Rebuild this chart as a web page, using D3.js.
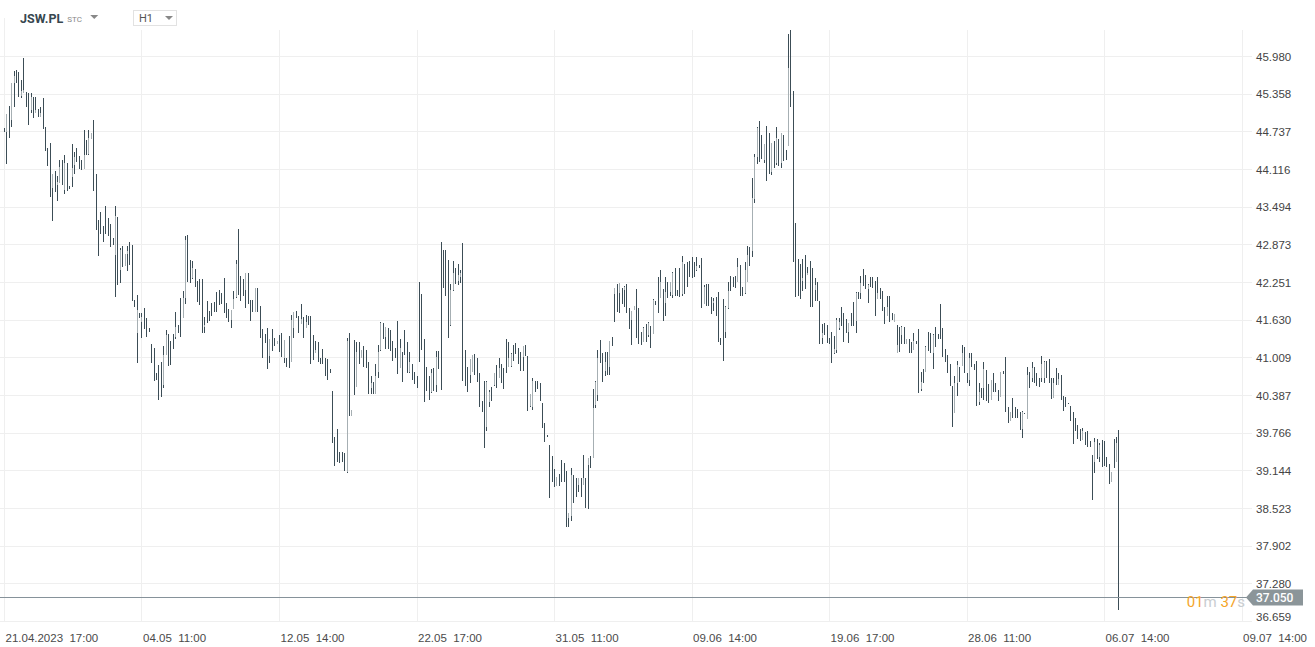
<!DOCTYPE html>
<html>
<head>
<meta charset="utf-8">
<title>JSW.PL H1</title>
<style>
  body { margin: 0; background: #fff; overflow: hidden; }
  svg { display: block; font-family: Roboto, "Noto Sans", sans-serif; }
  .tick text { white-space: pre; }
</style>
</head>
<body>
<script src="https://d3js.org/d3.v7.min.js"></script>
<script>
// H1 candles, [open, high, low, close]
const ohlc = [
  [44.78,44.79,44.73,44.73],[44.73,45.02,44.20,45.02],[45.00,45.15,44.63,44.70],[44.92,45.53,44.81,45.53],
  [45.53,45.73,45.14,45.65],[45.65,45.75,45.53,45.55],[45.55,45.72,45.30,45.35],[45.32,45.58,45.29,45.40],
  [45.37,45.95,45.37,45.42],[45.38,45.39,45.14,45.15],[45.15,45.37,44.84,44.90],[45.09,45.37,45.04,45.30],
  [45.28,45.30,44.96,45.00],[45.04,45.30,45.04,45.09],[45.09,45.11,44.97,44.98],[44.97,45.14,44.97,45.04],
  [45.05,45.29,44.78,44.80],[44.80,44.81,44.41,44.45],[44.45,44.46,44.16,44.20],[44.20,44.54,43.65,43.70],
  [43.80,44.03,43.26,44.03],[44.03,44.08,43.74,43.76],[43.85,44.00,43.59,43.90],[43.88,44.26,43.88,44.15],
  [44.15,44.26,43.85,43.90],[43.77,44.35,43.70,44.21],[44.20,44.21,43.75,43.80],[43.83,43.83,43.79,43.79],
  [43.98,44.53,43.82,44.13],[44.18,44.40,44.03,44.31],[44.31,44.46,44.23,44.24],[44.25,44.33,44.12,44.13],
  [44.20,44.26,44.10,44.10],[44.12,44.76,44.12,44.35],[44.55,44.59,44.35,44.36],[44.36,44.76,44.35,44.63],
  [44.61,44.71,44.61,44.71],[44.70,44.92,43.75,43.80],[43.80,44.03,43.11,43.20],[43.20,43.27,42.68,42.75],
  [43.35,43.41,43.04,43.10],[43.10,43.17,42.91,42.95],[43.40,43.51,43.04,43.10],[43.25,43.31,43.01,43.05],
  [43.15,43.21,42.83,42.90],[42.95,42.98,42.86,42.87],[42.70,43.51,42.00,43.34],[43.30,43.32,42.20,42.30],
  [42.45,42.81,42.23,42.78],[42.78,42.85,42.50,42.52],[42.52,42.71,42.52,42.71],[42.71,42.85,42.43,42.76],
  [42.76,42.91,42.53,42.55],[42.55,42.86,41.94,42.00],[41.95,41.95,41.84,41.85],[41.41,42.04,40.92,41.79],
  [41.73,41.74,41.66,41.66],[41.59,41.74,41.33,41.67],[41.70,41.82,41.48,41.50],[41.55,41.66,41.34,41.36],
  [41.49,41.49,41.43,41.43],[41.20,41.23,40.92,40.95],[41.00,41.16,40.62,40.65],[40.74,40.75,40.63,40.64],
  [40.70,40.88,40.31,40.35],[40.60,40.93,40.35,40.40],[40.55,41.20,40.50,41.05],[41.05,41.46,41.05,41.38],
  [41.35,41.39,40.87,40.90],[41.10,41.28,40.88,40.90],[41.30,41.39,41.15,41.15],[41.34,41.76,41.31,41.51],
  [41.51,41.54,41.41,41.42],[41.45,41.99,41.34,41.36],[41.66,42.10,41.66,41.99],[41.99,43.01,41.89,42.94],
  [42.94,43.03,42.25,42.30],[42.50,42.61,42.23,42.25],[42.32,42.60,42.30,42.48],[42.45,42.47,42.17,42.20],
  [42.20,42.27,41.92,41.95],[42.10,42.30,41.87,41.90],[41.95,42.30,41.41,41.45],[41.51,41.67,41.41,41.54],
  [41.85,41.94,41.58,41.60],[41.75,41.77,41.61,41.62],[41.85,41.91,41.69,41.70],[41.90,41.92,41.76,41.77],
  [42.00,42.09,41.76,41.80],[42.05,42.12,41.87,41.90],[42.05,42.07,41.89,41.90],[42.20,42.32,41.74,41.80],
  [41.85,41.91,41.66,41.67],[41.75,41.81,41.59,41.60],[41.62,41.79,41.49,41.79],[41.81,42.10,41.81,41.97],
  [42.00,42.61,41.99,42.55],[42.55,43.13,42.04,42.10],[42.30,42.35,41.94,42.00],[42.25,42.30,42.02,42.05],
  [42.12,42.40,41.82,42.40],[42.35,42.40,41.89,41.92],[41.90,41.95,41.61,41.62],[41.94,41.95,41.76,41.77],
  [41.76,42.15,41.76,42.15],[42.15,42.15,41.76,41.76],[41.76,41.86,41.33,41.35],[41.35,41.48,41.00,41.00],
  [41.38,41.39,41.25,41.25],[41.25,41.49,40.82,40.85],[41.03,41.31,40.92,41.31],[41.30,41.48,41.11,41.12],
  [41.30,41.33,41.20,41.20],[41.23,41.28,41.23,41.28],[41.27,41.38,41.10,41.10],[41.10,41.41,41.01,41.02],
  [41.00,41.29,40.92,41.29],[40.99,41.00,40.85,40.86],[40.90,41.36,40.83,40.85],[40.93,41.71,40.93,41.62],
  [41.49,41.76,41.33,41.76],[41.76,41.77,41.66,41.66],[41.66,41.69,41.41,41.42],[41.56,41.89,41.56,41.64],
  [41.64,41.67,41.33,41.35],[41.49,41.71,41.49,41.59],[41.60,41.69,41.54,41.55],[41.55,41.69,40.90,40.95],
  [41.20,41.38,40.96,41.00],[41.08,41.28,41.08,41.13],[41.13,41.26,40.93,40.95],[40.99,41.00,40.90,40.90],
  [41.00,41.15,40.90,40.90],[40.90,41.00,40.70,40.72],[40.80,40.98,40.63,40.65],[40.81,40.82,40.75,40.76],
  [40.45,40.45,39.60,39.65],[39.65,39.69,39.22,39.25],[39.50,39.83,39.28,39.30],[39.40,39.45,39.27,39.27],
  [39.44,39.45,39.28,39.29],[39.40,39.43,39.13,39.15],[39.12,41.33,39.10,41.28],[41.28,41.41,40.04,40.10],
  [40.04,40.14,40.04,40.14],[41.00,41.29,40.39,40.40],[40.52,41.26,40.52,41.10],[41.10,41.26,40.90,40.92],
  [41.00,41.13,41.00,41.13],[41.13,41.20,40.85,40.86],[41.00,41.13,40.83,40.85],[40.85,40.93,40.40,40.42],
  [40.50,40.70,40.40,40.59],[40.58,40.60,40.40,40.41],[40.40,40.90,40.40,40.70],[40.77,41.21,40.67,41.10],
  [41.13,41.59,41.11,41.58],[41.57,41.58,41.31,41.33],[41.34,41.51,41.15,41.51],[41.45,41.49,41.15,41.17],
  [41.40,41.46,41.11,41.15],[41.15,41.28,40.95,40.97],[41.10,41.16,41.00,41.00],[41.00,41.61,40.73,40.76],
  [40.83,41.31,40.83,41.16],[41.00,41.10,40.60,40.65],[41.35,41.46,41.05,41.05],[41.05,41.26,40.75,40.78],
  [40.77,41.10,40.75,40.93],[40.90,40.90,40.63,40.65],[40.70,40.77,40.57,40.60],[40.60,40.70,40.50,40.52],
  [42.00,42.25,40.93,41.00],[41.90,42.05,41.13,41.20],[41.20,41.31,40.27,40.30],[40.80,40.85,40.45,40.47],
  [40.60,40.70,40.31,40.32],[40.44,40.82,40.42,40.75],[40.75,40.83,40.45,40.47],[40.55,41.11,40.44,41.01],
  [41.01,41.11,40.82,40.83],[42.85,42.91,40.47,40.50],[42.75,42.78,42.15,42.20],[42.70,42.78,42.02,42.05],
  [42.40,42.61,41.33,41.40],[41.54,42.22,41.53,42.12],[42.12,42.60,42.10,42.40],[42.40,42.48,42.22,42.23],
  [42.27,42.55,42.20,42.37],[42.33,42.45,42.23,42.40],[42.40,42.89,40.62,40.70],[40.90,41.13,40.54,40.60],
  [40.60,40.85,40.44,40.45],[40.72,40.98,40.59,40.98],[40.77,41.05,40.77,41.05],[41.04,41.06,40.72,40.73],
  [40.75,41.00,40.60,40.62],[40.62,40.75,40.19,40.20],[40.25,40.29,40.11,40.12],[40.12,40.62,39.51,39.60],
  [39.86,40.62,39.79,40.60],[40.27,40.47,40.19,40.44],[40.45,40.52,40.29,40.30],[40.55,40.75,40.54,40.75],
  [40.75,40.88,40.50,40.52],[40.67,41.00,40.67,40.83],[40.83,40.90,40.59,40.60],[40.70,40.83,40.49,40.50],
  [41.00,41.31,40.75,40.78],[40.85,41.26,40.85,41.00],[40.87,41.08,40.85,41.06],[41.06,41.21,40.95,40.96],
  [41.20,41.25,41.06,41.07],[41.07,41.16,40.90,40.92],[40.95,41.10,40.78,40.80],[41.01,41.20,40.78,41.20],
  [41.19,41.21,41.03,41.04],[41.00,41.03,40.12,40.15],[40.20,40.40,40.19,40.40],[40.19,40.67,40.14,40.62],
  [40.60,40.62,40.44,40.45],[40.55,40.62,40.49,40.49],[40.50,40.59,40.29,40.30],[40.25,40.26,39.84,39.86],
  [39.85,39.93,39.61,39.63],[39.72,39.73,39.69,39.70],[39.50,39.56,38.69,38.75],[39.10,39.38,38.95,38.97],
  [39.05,39.17,38.87,38.90],[38.89,39.03,38.89,39.03],[39.03,39.08,38.89,38.90],[39.20,39.32,38.95,38.97],
  [39.10,39.27,38.95,38.96],[39.00,39.13,38.21,38.30],[38.36,38.44,38.21,38.44],[38.39,39.18,38.31,39.07],
  [39.05,39.07,38.60,38.65],[38.80,39.02,38.70,38.72],[38.90,39.02,38.79,39.02],[39.00,39.02,38.70,38.72],
  [38.90,39.40,38.90,39.02],[39.00,39.02,38.52,38.55],[39.23,39.35,38.51,39.35],[39.35,39.38,39.18,39.20],
  [39.35,40.49,39.35,40.17],[40.22,40.62,40.17,40.60],[40.39,41.13,40.29,41.00],[41.00,41.29,40.92,40.95],
  [40.95,41.08,40.60,40.65],[40.78,41.10,40.70,40.93],[40.93,41.10,40.72,40.75],[40.85,41.28,40.72,41.28],
  [41.28,41.34,41.20,41.20],[42.05,42.15,41.59,42.15],[42.15,42.22,41.76,41.80],[42.07,42.23,41.74,42.23],
  [42.10,42.15,41.89,41.90],[42.12,42.19,41.84,42.17],[42.15,42.22,41.74,41.76],[41.76,41.82,41.48,41.50],
  [41.62,41.77,41.21,41.77],[41.79,41.86,41.79,41.86],[41.85,42.14,41.33,41.35],[41.70,41.82,41.23,41.25],
  [41.40,41.43,41.21,41.22],[41.26,41.51,41.26,41.49],[41.49,41.56,41.26,41.28],[41.38,41.59,41.34,41.58],
  [41.50,41.53,41.16,41.18],[41.39,41.97,41.39,41.95],[41.93,41.94,41.87,41.88],[42.00,42.33,41.74,41.78],
  [41.99,42.45,41.99,42.25],[42.10,42.14,41.61,41.65],[41.91,42.33,41.69,42.09],[42.10,42.25,41.99,42.00],
  [42.09,42.25,42.02,42.25],[42.04,42.42,41.99,42.40],[42.40,42.48,42.02,42.05],[42.10,42.12,42.02,42.03],
  [42.10,42.48,42.00,42.03],[42.05,42.68,42.02,42.58],[42.50,42.55,42.05,42.10],[42.50,42.58,42.17,42.20],
  [42.55,42.60,42.33,42.35],[42.60,42.66,42.32,42.35],[42.55,42.58,42.33,42.35],[42.45,42.66,42.43,42.52],
  [42.52,42.53,42.48,42.49],[42.50,42.65,41.82,41.85],[41.89,42.20,41.89,42.17],[42.17,42.22,41.86,41.88],
  [42.00,42.22,41.86,41.88],[41.90,42.00,41.72,41.74],[41.91,41.99,41.77,41.94],[41.95,42.00,41.69,41.70],
  [41.80,42.09,41.26,41.30],[41.32,41.33,41.21,41.22],[41.40,41.97,40.95,41.00],[41.43,41.86,41.33,41.84],
  [41.82,42.25,41.81,42.10],[42.30,42.35,42.10,42.12],[42.30,42.33,42.17,42.18],[42.30,42.35,42.15,42.16],
  [42.25,42.65,42.25,42.50],[42.50,42.53,42.02,42.05],[42.15,42.17,42.02,42.03],[42.07,42.58,42.05,42.45],
  [42.25,42.85,42.25,42.70],[42.70,42.83,42.52,42.52],[42.76,43.97,42.66,43.64],[43.62,44.36,43.55,44.31],
  [44.31,44.81,44.20,44.79],[44.80,44.91,44.23,44.25],[44.60,44.68,44.28,44.30],[44.26,44.53,44.21,44.53],
  [44.50,44.82,43.92,43.95],[44.50,44.71,44.03,44.05],[44.07,44.54,44.02,44.54],[44.54,44.58,44.13,44.15],
  [44.21,44.81,44.18,44.63],[44.60,44.61,44.16,44.18],[44.21,44.71,44.13,44.71],[44.65,44.68,44.25,44.26],
  [44.40,44.43,44.26,44.27],[44.49,46.34,44.49,45.78],[45.80,46.41,45.14,45.20],[45.20,45.40,42.58,42.65],
  [42.70,43.22,42.00,42.05],[42.50,42.63,42.02,42.05],[42.40,42.55,41.97,42.00],[42.27,42.63,42.10,42.32],
  [42.40,42.70,42.14,42.15],[42.37,42.50,42.37,42.40],[42.40,42.60,41.84,41.90],[42.30,42.48,41.84,41.85],
  [42.12,42.32,41.94,42.20],[42.20,42.25,41.94,41.95],[41.93,41.94,41.23,41.25],[41.33,41.56,41.23,41.41],
  [41.50,41.58,41.38,41.39],[41.45,41.54,41.25,41.26],[41.30,41.33,41.23,41.23],[41.30,41.43,40.92,40.95],
  [41.08,41.36,41.06,41.15],[41.13,41.66,41.08,41.62],[41.49,41.66,41.46,41.59],[41.70,41.84,41.53,41.54],
  [41.60,41.74,41.26,41.28],[41.55,41.64,41.41,41.42],[41.43,41.58,41.25,41.58],[41.70,41.74,41.53,41.53],
  [41.80,41.92,41.53,41.55],[41.61,42.09,41.41,42.07],[42.07,42.09,41.97,41.98],[42.07,42.35,41.97,42.23],
  [42.40,42.47,42.19,42.20],[42.30,42.37,42.14,42.15],[42.14,42.22,41.91,42.20],[42.30,42.33,42.17,42.18],
  [42.30,42.33,42.15,42.16],[42.15,42.27,41.69,41.72],[41.97,42.33,41.97,42.07],[42.10,42.15,41.97,41.98],
  [42.00,42.10,41.77,41.80],[41.80,41.84,41.56,41.57],[41.69,42.02,41.69,41.84],[41.85,42.02,41.59,41.60],
  [41.70,41.74,41.62,41.63],[41.59,41.72,41.59,41.72],[41.08,41.54,41.08,41.21],[41.30,41.51,41.10,41.10],
  [41.38,41.53,41.23,41.51],[41.50,41.51,41.23,41.25],[41.23,41.31,41.23,41.31],[41.30,41.31,41.08,41.10],
  [41.20,41.26,41.08,41.09],[41.13,41.41,41.13,41.28],[41.27,41.28,41.23,41.23],[41.25,41.48,40.42,40.45],
  [40.49,40.77,40.45,40.60],[40.75,40.82,40.59,40.60],[40.77,41.20,40.77,41.18],[41.30,41.43,41.11,41.12],
  [41.30,41.41,41.08,41.10],[41.08,41.39,40.82,41.38],[41.40,41.51,41.18,41.20],[41.38,41.39,41.31,41.32],
  [41.60,41.89,41.31,41.33],[41.40,41.49,41.01,41.05],[41.10,41.15,40.93,40.95],[40.95,41.05,40.75,40.78],
  [40.80,40.90,40.54,40.55],[40.50,40.54,39.86,39.90],[40.09,40.70,40.09,40.59],[40.59,40.95,40.37,40.88],
  [40.80,40.85,40.60,40.62],[40.87,41.21,40.87,41.08],[41.10,41.18,40.75,40.78],[40.73,40.75,40.59,40.60],
  [40.63,41.08,40.54,41.00],[41.00,41.08,40.85,40.86],[40.88,40.90,40.80,40.80],[40.80,40.95,40.21,40.25],
  [40.27,40.59,40.22,40.44],[40.45,40.50,40.34,40.34],[40.50,40.93,40.31,40.82],[40.75,40.80,40.29,40.30],
  [40.50,40.57,40.26,40.27],[40.31,40.63,40.31,40.63],[40.63,40.75,40.44,40.45],[40.55,40.59,40.44,40.45],
  [40.45,40.47,40.29,40.30],[40.35,40.77,40.35,40.77],[40.77,40.78,40.73,40.74],[40.75,41.01,40.11,40.15],
  [40.15,40.19,39.93,39.95],[39.96,40.11,39.96,40.11],[40.20,40.34,40.01,40.02],[40.10,40.19,40.01,40.02],
  [40.10,40.16,40.01,40.02],[40.05,40.11,39.81,39.83],[39.83,40.12,39.68,40.11],[40.09,40.09,40.07,40.08],
  [39.99,40.85,39.99,40.72],[40.72,40.77,40.50,40.52],[40.67,40.93,40.60,40.83],[40.83,40.85,40.59,40.60],
  [40.70,40.75,40.54,40.55],[40.65,40.67,40.52,40.53],[40.67,41.03,40.60,40.90],[40.67,40.95,40.59,40.93],
  [40.93,40.95,40.67,40.68],[40.90,40.98,40.59,40.60],[40.60,40.67,40.32,40.34],[40.34,40.67,40.34,40.59],
  [40.75,40.83,40.55,40.57],[40.55,40.75,40.55,40.65],[40.65,40.72,40.31,40.32],[40.33,40.37,40.12,40.14],
  [40.30,40.35,40.19,40.20],[40.25,40.26,40.24,40.24],[40.20,40.21,39.96,39.98],[40.00,40.11,39.58,39.60],
  [39.95,40.01,39.79,39.80],[39.85,39.89,39.66,39.67],[39.80,39.83,39.63,39.64],[39.65,39.84,39.65,39.79],
  [39.75,39.78,39.56,39.58],[39.70,39.79,39.53,39.55],[39.60,39.63,39.53,39.54],[39.30,39.40,38.66,38.70],
  [39.28,39.68,39.10,39.61],[39.60,39.66,39.33,39.35],[39.36,39.60,39.28,39.56],[39.56,39.65,39.20,39.22],
  [39.55,39.63,39.22,39.24],[39.33,39.36,39.20,39.21],[39.20,39.25,38.92,38.95],[38.95,39.12,38.95,39.12],
  [39.60,39.66,39.18,39.20],[39.28,39.69,39.28,39.60],[39.60,39.81,36.84,37.05]
];

const xTickBars = [0, 57, 114, 171, 228, 285, 342, 399, 456, 513];
const xTickLabels = ["21.04.2023  17:00", "04.05  11:00", "12.05  14:00", "22.05  17:00", "31.05  11:00",
                     "09.06  14:00", "19.06  17:00", "28.06  11:00", "06.07  14:00", "09.07  14:00"];
const yTicks = [36.659, 37.280, 37.902, 38.523, 39.144, 39.766, 40.387, 41.009,
                41.630, 42.251, 42.873, 43.494, 44.116, 44.737, 45.358, 45.980];
const lastPrice = 37.050;
const countdown = ["01", "m ", "37", "s"];

const width = 1315, height = 647;
const bottom = 621;

const svg = d3.select("body").append("svg")
    .attr("width", width)
    .attr("height", height);

const x = d3.scaleLinear().domain([0, 513]).range([4, 1241.5]);
const y = d3.scaleLinear().domain([36.659, 45.980]).range([bottom, 56]);
const px = v => Math.round(v) + 0.5;

// grid
svg.append("g").selectAll("line").data(yTicks).join("line")
    .attr("x1", 0).attr("x2", 1252)
    .attr("y1", d => px(y(d))).attr("y2", d => px(y(d)))
    .attr("stroke", "#efefef");

svg.append("g").selectAll("line").data(xTickBars).join("line")
    .attr("x1", d => px(x(d))).attr("x2", d => px(x(d)))
    .attr("y1", (d, i) => i === 0 ? 18 : 30).attr("y2", bottom)
    .attr("stroke", "#efefef");

// candles
const dark = "#3c4d56", light = "#a6afb3";
const candles = svg.append("g");
ohlc.forEach((d, i) => {
    const [o, h, l, c] = d;
    const cx = px(x(i));
    const top = Math.round(y(h)), bot = Math.max(Math.round(y(l)), top + 1);
    candles.append("line")
        .attr("x1", cx).attr("x2", cx).attr("y1", top).attr("y2", bot)
        .attr("stroke", dark).attr("stroke-width", 1);
    if (c > o) {
        const bt = Math.round(y(c)), bb = Math.max(Math.round(y(o)), bt + 1);
        candles.append("line")
            .attr("x1", cx).attr("x2", cx).attr("y1", bt).attr("y2", bb)
            .attr("stroke", light).attr("stroke-width", 1);
    }
});

// price axis
const yAxis = d3.axisRight(y).tickValues(yTicks).tickSize(0).tickPadding(0)
    .tickFormat(d3.format(".3f"));
const ya = svg.append("g").attr("transform", "translate(1256,0)").call(yAxis);
ya.select(".domain").remove();
ya.selectAll("text").attr("fill", "#444").style("font-size", "11.5px")
    .attr("dy", (d, i) => i === 0 ? "-0.05em" : "0.35em");

// time axis
const xAxis = d3.axisBottom(x).tickValues(xTickBars).tickSize(0).tickPadding(0)
    .tickFormat((d, i) => xTickLabels[i]);
const xa = svg.append("g").attr("transform", `translate(0,${bottom})`).call(xAxis);
xa.select(".domain").remove();
xa.selectAll("text").attr("fill", "#4a4a4a").style("font-size", "11.5px")
    .attr("text-anchor", "start").attr("dx", 1).attr("y", 13);

// last price line + label
const py = px(y(lastPrice));
svg.append("line").attr("x1", 0).attr("x2", 1250).attr("y1", py).attr("y2", py)
    .attr("stroke", "#86929a").attr("stroke-width", 1);
svg.append("path")
    .attr("d", `M1246,${py} L1253,${py - 8} L1303,${py - 8} L1303,${py + 8} L1253,${py + 8} Z`)
    .attr("fill", "#8b9599");
svg.append("text").attr("x", 1256).attr("y", py + 4.5)
    .attr("fill", "#fff").style("font-size", "12px").style("font-weight", 500)
    .text(d3.format(".3f")(lastPrice));

const cd = svg.append("text").attr("x", 1245).attr("y", py + 9.5)
    .attr("text-anchor", "end").style("font-size", "15px").style("white-space", "pre");
cd.selectAll("tspan").data(countdown).join("tspan")
    .attr("fill", (d, i) => i % 2 === 0 ? "#f5a52a" : "#c9cdd0")
    .text(d => d);

// header
const hdr = svg.append("g");
const sym = hdr.append("text").attr("x", 20).attr("y", 23).attr("fill", "#37474f")
    .style("font-size", "12.5px").style("font-weight", 700).text("JSW.PL");
const symEnd = 20 + sym.node().getComputedTextLength();
hdr.append("text").attr("x", symEnd + 4).attr("y", 22).attr("fill", "#888")
    .style("font-size", "8px").text("STC");
hdr.append("path").attr("d", `M${symEnd + 27},15 L${symEnd + 35},15 L${symEnd + 31},19 Z`).attr("fill", "#888");
hdr.append("rect").attr("x", 133.5).attr("y", 10.5).attr("width", 43).attr("height", 15)
    .attr("fill", "#fff").attr("stroke", "#e2e2e2");
hdr.append("text").attr("x", 139).attr("y", 22).attr("fill", "#555")
    .style("font-size", "11px").text("H1");
hdr.append("path").attr("d", "M165,16 L173,16 L169,20 Z").attr("fill", "#888");
</script>
</body>
</html>
